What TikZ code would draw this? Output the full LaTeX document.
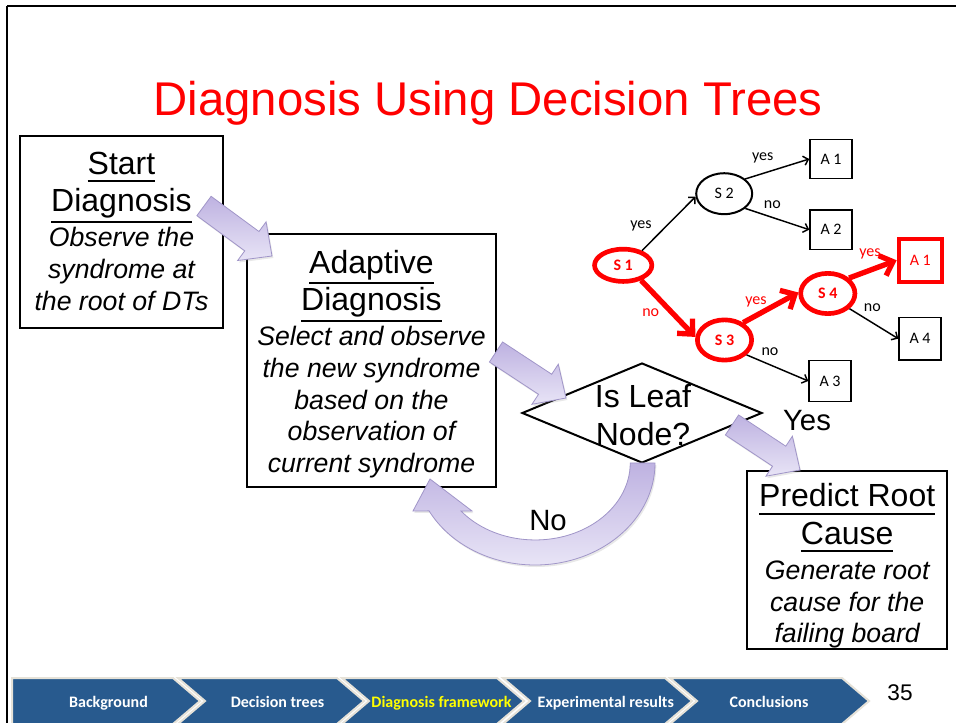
\documentclass[tikz,border=0pt]{standalone}
\usepackage{fontspec}
\setmainfont{Liberation Sans}
\newfontfamily\carlito{Carlito}
\usetikzlibrary{shapes.geometric,arrows.meta,calc,shadows}

\definecolor{slidered}{RGB}{255,0,0}
\definecolor{navblue}{RGB}{40,90,142}
\definecolor{navedge}{RGB}{230,226,216}
\definecolor{navyellow}{RGB}{255,255,0}
\definecolor{lavtop}{RGB}{190,178,225}
\definecolor{lavbot}{RGB}{232,228,246}
\definecolor{lavedge}{RGB}{160,149,200}

% fonts
\newcommand\hdsize{\fontsize{24pt}{28.5pt}\selectfont\upshape}
% heading word with an underline kept clear of descenders
\newcommand\headln[1]{{\hdsize\setbox0\hbox{#1}%
  \dimen0=4.5pt \advance\dimen0 -\dp0
  \ifdim\dimen0<2pt \dimen0=2pt\fi
  \vtop{\box0\kern\dimen0\hrule height 1.4pt}}}
\newcommand\bodyfont{\fontsize{20pt}{23.75pt}\selectfont\itshape\lineskiplimit=-30pt\relax}
\newcommand\treefont{\carlito\fontsize{12pt}{14pt}\selectfont}
\newcommand\navfont{\carlito\bfseries\fontsize{12pt}{14pt}\selectfont}

% block arrow from tail coordinate #1 to tip coordinate #2
\newcommand\blockarrow[2]{%
  \coordinate (ba-base) at ($(#2)!18.75pt!(#1)$);
  \path[blockarrowstyle]
    ($(#1)!9pt!90:(#2)$) -- ($(ba-base)!9pt!90:(#2)$) -- ($(ba-base)!18pt!90:(#2)$) -- (#2)
    -- ($(ba-base)!18pt!-90:(#2)$) -- ($(ba-base)!9pt!-90:(#2)$) -- ($(#1)!9pt!-90:(#2)$) -- cycle;}

\begin{document}
\begin{tikzpicture}[x=0.75pt, y=-0.75pt,
  boxframe/.style={draw, line width=1.5pt, fill=white, inner sep=0pt},
  boxtext/.style={inner sep=0pt, align=center, font=\bodyfont},
  blockarrowstyle/.style={draw=lavedge, line width=0.6pt, top color=lavtop, bottom color=lavbot,
     drop shadow={opacity=0.18, shadow xshift=1pt, shadow yshift=-1.5pt}},
  sred/.style={ellipse, draw=slidered, line width=3.5pt, text=slidered, font=\treefont\bfseries, inner sep=0pt},
  sblack/.style={ellipse, draw, line width=1.5pt, font=\treefont, inner sep=0pt},
  abox/.style={draw, line width=1.1pt, font=\treefont, inner sep=0pt},
  aboxred/.style={draw=slidered, line width=3pt, text=slidered, font=\treefont, inner sep=0pt},
  tblack/.style={line width=1.1pt, -{Straight Barb[length=3.5pt,width=7pt]}},
  tred/.style={draw=slidered, line width=4pt, -{Straight Barb[length=8.5pt,width=16pt]}},
  lbl/.style={font=\treefont, anchor=base, inner sep=0pt},
  lblred/.style={lbl, text=slidered},
  navbox/.style={fill=navblue, draw=navedge, line width=1.5pt, line join=miter},
  navtext/.style={font=\navfont, text=white, anchor=base, inner sep=0pt},
  bigword/.style={font=\fontsize{22pt}{26pt}\selectfont, anchor=base, inner sep=0pt}]

\useasboundingbox (0,0) rectangle (956,723);
\fill[white] (0,0) rectangle (956,723);

% slide frame
\draw[line width=1.5pt] (7,6.5) -- (956,6.5);
\draw[line width=0.8pt] (7,6) -- (7,723);

% title
\node[anchor=base, inner sep=0pt, text=slidered, font=\fontsize{35.5pt}{40pt}\selectfont] (title) at (488,116) {Diagnosis Using Decision Trees};

% flow boxes
\node[boxframe, minimum width=152pt, minimum height=144pt] (start) at (121.5,232) {};
\node[boxtext] (start-txt) at (121.5,231)
  {\headln{Start}\\[4.5pt] \headln{Diagnosis}\\[2.5pt] Observe the\\ syndrome at\\ the root of DTs};
\node[boxframe, minimum width=186.75pt, minimum height=189.75pt] (adapt) at (371.5,360.8) {};
\node[boxtext] (adapt-txt) at (371.5,364)
  {\headln{Adaptive}\\[4.5pt] \headln{Diagnosis}\\[2.5pt] Select and observe\\ the new syndrome\\ based on the\\ observation of\\ current syndrome};
\node[boxframe, minimum width=150pt, minimum height=133.5pt] (predict) at (847.2,560) {};
\node[boxtext] (predict-txt) at (847.2,566)
  {\headln{Predict Root}\\[4.5pt] \headln{Cause}\\[2.5pt] Generate root\\ cause for the\\ failing board};

% decision
\node[diamond, draw, line width=1.5pt, fill=white, minimum width=180pt, minimum height=75pt, inner sep=0pt] (leafd) at (642,413) {};
\node[font=\hdsize, align=center, inner sep=0pt] (leaf) at (643,415) {Is Leaf\\Node?};

% decision tree
\node[sred, minimum width=43pt, minimum height=24.2pt] (s1) at (623.2,265.3) {S 1};
\node[sblack, minimum width=42pt, minimum height=30.7pt] (s2) at (724.2,193.7) {S 2};
\node[sred, minimum width=40.7pt, minimum height=30.2pt] (s3) at (724.5,340) {S 3};
\node[sred, minimum width=40.7pt, minimum height=30.2pt] (s4) at (827.8,293.5) {S 4};
\node[abox, minimum width=31.5pt, minimum height=29pt] (a1t) at (831,159) {A 1};
\node[abox, minimum width=31.5pt, minimum height=29.5pt] (a2) at (831,229.7) {A 2};
\node[aboxred, minimum width=32.5pt, minimum height=32.5pt] (a1r) at (920.3,260.3) {A 1};
\node[abox, minimum width=31.5pt, minimum height=32pt] (a4) at (920,338.7) {A 4};
\node[abox, minimum width=31.5pt, minimum height=30.4pt] (a3) at (830,381) {A 3};

\draw[tblack] (s1.38) -- (s2.186);
\draw[tblack] (s2.35) -- (a1t.west);
\draw[tblack] (s2.-35) -- (a2.west);
\draw[tred] (s1.-40) -- (s3.174);
\draw[tred] (s3.43) -- (s4.178);
\draw[tred] (s4.36) -- (a1r.west);
\draw[tblack] (s4.-35) -- (a4.west);
\draw[tblack] (s3.-34) -- (a3.west);

\node[lbl] (l12) at (641,228.3) {yes};
\node[lbl] (l2a1) at (762.7,160.7) {yes};
\node[lbl] (l2a2) at (772.3,208.3) {no};
\node[lblred] (l13) at (650.7,316.7) {no};
\node[lblred] (l34) at (756,305) {yes};
\node[lblred] (l4a1) at (870,256.7) {yes};
\node[lbl] (l4a4) at (872.3,311.7) {no};
\node[lbl] (l3a3) at (770,355) {no};

% block arrows between the steps
\coordinate (ar1-tail) at (204,206);
\coordinate (ar1-tip) at (272,256);
\coordinate (ar2-tail) at (496,352);
\coordinate (ar2-tip) at (566,398);
\coordinate (ar3-tail) at (732,425);
\coordinate (ar3-tip) at (800,470);
\blockarrow{ar1-tail}{ar1-tip}
\blockarrow{ar2-tail}{ar2-tip}
\blockarrow{ar3-tail}{ar3-tip}

% loop back arrow
\path[blockarrowstyle] (655,463) arc[start angle=0, end angle=152, x radius=120, y radius=102]
  -- (413,511) -- (430,479) -- (472,511) -- (461,511)
  arc[start angle=141.4, end angle=0, x radius=95, y radius=77] -- cycle;

\node[bigword] (yes) at (807,430) {Yes};
\node[bigword] (no) at (548,530) {No};

% navigation bar
\path[navbox] (12,678) -- (173,678) -- (200,701) -- (173,724) -- (12,724) -- cycle;
\path[navbox] (178,678) -- (337,678) -- (364,701) -- (337,724) -- (178,724) -- (205,701) -- cycle;
\path[navbox] (342,678) -- (497,678) -- (524,701) -- (497,724) -- (342,724) -- (369,701) -- cycle;
\path[navbox] (503,678) -- (665,678) -- (692,701) -- (665,724) -- (503,724) -- (530,701) -- cycle;
\path[navbox] (670,678) -- (842,678) -- (869,701) -- (842,724) -- (670,724) -- (697,701) -- cycle;

\node[navtext] (nav-bg) at (108.5,707.5) {Background};
\node[navtext] (nav-dt) at (277.5,707.5) {Decision trees};
\node[navtext, text=navyellow] (nav-df) at (441.5,707.5) {Diagnosis framework};
\node[navtext] (nav-er) at (605.8,707.5) {Experimental results};
\node[navtext] (nav-cc) at (769,707.5) {Conclusions};

\node[anchor=base, inner sep=0pt, font=\fontsize{17pt}{20pt}\selectfont] (page) at (900,700) {35};
\end{tikzpicture}
\end{document}
